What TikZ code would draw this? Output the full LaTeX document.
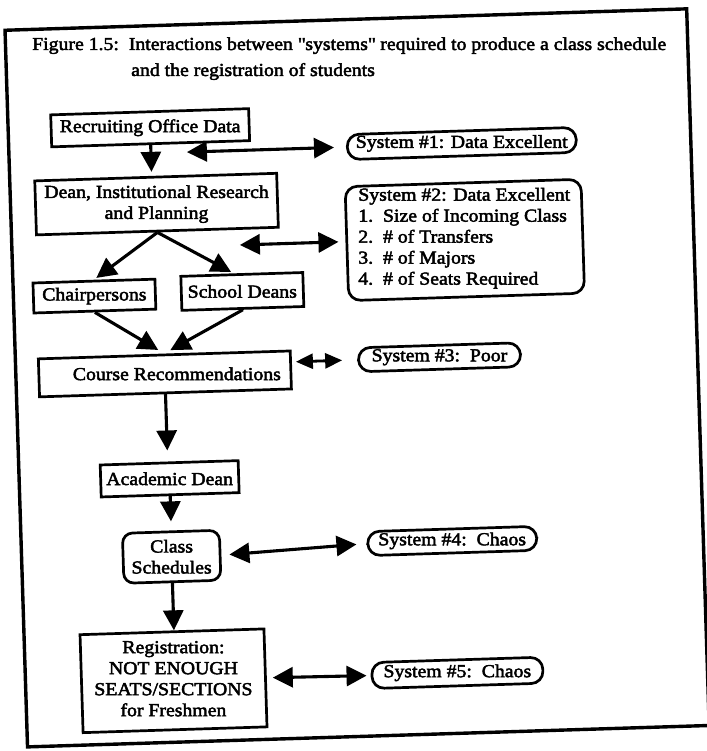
\documentclass[tikz,border=0pt]{standalone}
\usepackage{fontspec}
\setmainfont{Liberation Serif}[FakeBold=2.5, FakeStretch=1.08]
\usetikzlibrary{arrows.meta,calc}

\begin{document}
\begin{tikzpicture}[x=1pt,y=-1pt,
  font=\fontsize{18.3}{21}\selectfont,
  box/.style={draw,line width=2.7pt,inner sep=0pt},
  pill/.style={draw,line width=2.7pt,rounded corners=12pt,inner sep=0pt},
  leveltext/.style={rotate=-1.8,inner sep=0pt,align=center},
  tip/.tip={Triangle[length=20pt,width=20pt]},
  smalltip/.tip={Triangle[length=17pt,width=15pt]},
  flowarrow/.style={line width=3.1pt,-tip},
  twoway/.style={line width=3.1pt,tip-tip},
  twowaysmall/.style={line width=2.8pt,smalltip-smalltip},
]
\fill[white] (0,0) rectangle (706,751);
\useasboundingbox (0,0) rectangle (706,751);

% caption
\node[anchor=base west, inner sep=0pt] (cap1) at (32,50)
  {Figure 1.5:\ \ Interactions between \textquotedbl systems\textquotedbl\ required to produce a class schedule};
\node[anchor=base west, inner sep=0pt] (cap2) at (131,76)
  {and the registration of students};

\begin{scope}[rotate around={1.8:(353,375)}, transform shape]
  % outer frame
  \draw[line width=3.4pt] (16,19.5) rectangle (698,736.5);

  % flow boxes
  \node[box, minimum width=198pt, minimum height=32pt] (rec) at (158,121.5) {};
  \node[box, minimum width=242pt, minimum height=54pt] (dean) at (162,198) {};
  \node[box, minimum width=122pt, minimum height=30pt] (chair) at (97,288) {};
  \node[box, minimum width=122pt, minimum height=34pt] (school) at (245,288) {};
  \node[box, minimum width=252pt, minimum height=38pt] (cr) at (165,368) {};
  \node[box, minimum width=138pt, minimum height=32pt] (ad) at (166.5,473) {};
  \node[box, rounded corners=10pt, minimum width=97pt, minimum height=50pt] (cs) at (166,551) {};
  \node[box, minimum width=184pt, minimum height=98pt] (reg) at (164,675) {};

  % system ratings
  \node[pill, minimum width=229pt, minimum height=25pt] (sys1) at (469,147) {};
  \node[box, rounded corners=12pt, minimum width=236pt, minimum height=114pt] (sys2) at (469,243.5) {};
  \node[pill, minimum width=162pt, minimum height=24pt] (sys3) at (440,360) {};
  \node[pill, minimum width=169pt, minimum height=24pt] (sys4) at (447,544) {};
  \node[pill, minimum width=171pt, minimum height=26pt] (sys5) at (448,676) {};

  % box texts, set level on the page
  \node[leveltext] (rec-t) at (rec) {Recruiting Office Data};
  \node[leveltext] (dean-t) at (dean) {Dean, Institutional Research\\and Planning};
  \node[leveltext] (chair-t) at (chair) {Chairpersons};
  \node[leveltext] (school-t) at (school) {School Deans};
  \node[leveltext] (cr-t) at (cr) {\hspace*{24pt}Course Recommendations};
  \node[leveltext] (ad-t) at (ad) {Academic Dean};
  \node[leveltext] (cs-t) at (cs) {Class\\Schedules};
  \node[leveltext] (reg-t) at ($(reg)+(0,-2)$) {Registration:\\NOT ENOUGH\\SEATS/SECTIONS\\for Freshmen};
  \node[leveltext] (sys1-t) at (sys1) {System \#1: Data Excellent};
  \node[leveltext, anchor=north west, align=left] (sys2-t) at (364,188)
    {System \#2: Data Excellent\\1.\ \ Size of Incoming Class\\2.\ \ \# of Transfers\\3.\ \ \# of Majors\\4.\ \ \# of Seats Required};
  \node[leveltext] (sys3-t) at (sys3) {System \#3:\ \ Poor};
  \node[leveltext] (sys4-t) at (sys4) {System \#4:\ \ Chaos};
  \node[leveltext] (sys5-t) at (sys5) {System \#5:\ \ Chaos};

  % free ends of the two-way links
  \coordinate (j1) at (194,147);
  \coordinate (j2) at (244,241.5);

  % flow connectors
  \draw[flowarrow, shorten >=4pt] (rec.south) -- (rec.south |- dean.north);
  \draw[flowarrow, shorten >=3pt] (dean.south) -- (chair.north);
  \draw[flowarrow, shorten >=3pt] (dean.south) -- ($(school.north)+(-8,0)$);
  \draw[flowarrow, shorten >=7pt] (chair.south) -- (cr.north);
  \draw[flowarrow, shorten >=7pt] (school.south) -- (cr.north);
  \draw[flowarrow, shorten >=11pt] (cr.south) -- (cr.south |- ad.north);
  \draw[flowarrow, shorten >=9pt] (ad.south) -- (ad.south |- cs.north);
  \draw[flowarrow] (cs.south) -- (cs.south |- reg.north);

  % two-way links to the systems
  \draw[twoway, shorten >=12pt] (j1) -- (sys1.west);
  \draw[twoway, shorten >=7pt] (j2) -- (j2 -| sys2.west);
  \draw[twowaysmall, shorten >=15pt] ($(cr.east |- sys3.west)+(4,0)$) -- (sys3.west);
  \draw[twoway, shorten <=8pt, shorten >=10pt] (cs.east) -- (sys4.west);
  \draw[twoway, shorten <=6pt, shorten >=4pt] (reg.east) -- (sys5.west);
\end{scope}
\end{tikzpicture}
\end{document}
